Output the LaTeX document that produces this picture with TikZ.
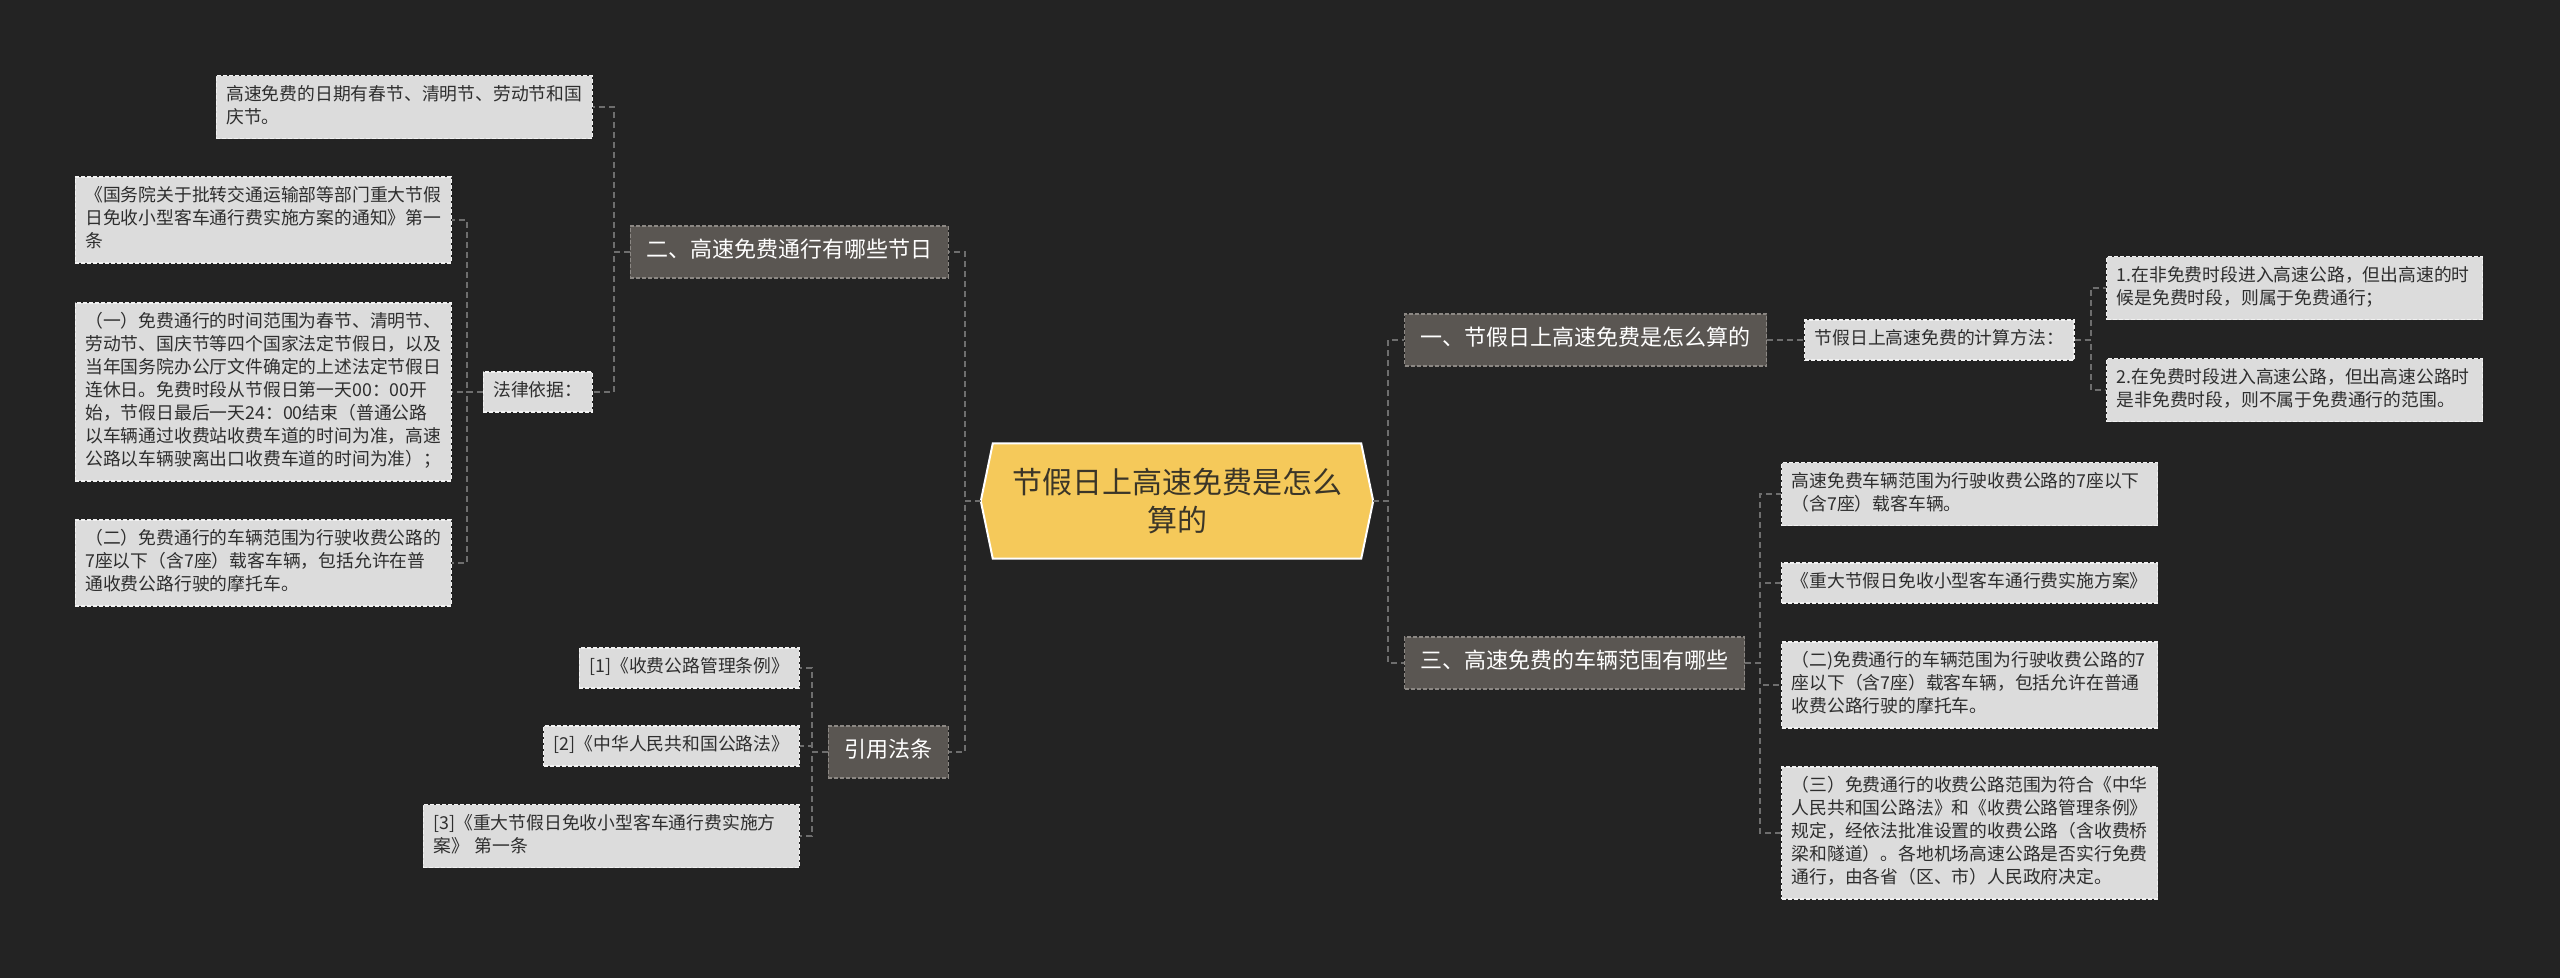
\documentclass[tikz,border=0pt]{standalone}
\usepackage{fontspec}
\setmainfont{Noto Sans CJK SC}
\usetikzlibrary{backgrounds,calc}
\definecolor{bgc}{HTML}{232323}
\definecolor{leaffill}{HTML}{DCDCDC}
\definecolor{leaftext}{HTML}{2E2E2E}
\definecolor{branchfill}{HTML}{5A5652}
\definecolor{branchline}{HTML}{8C8884}
\definecolor{centerfill}{HTML}{F5C95A}
\definecolor{centertext}{HTML}{3A3528}
\definecolor{connc}{HTML}{6E6E6E}
\tikzset{
  leaf/.style={draw=white!95!black, dash pattern=on 4pt off 2pt, line width=1.4pt,
    fill=leaffill, text=leaftext, font=\fontsize{17.8}{23}\selectfont, align=left,
    inner xsep=10pt, inner ysep=8.5pt,
    execute at begin node=\strut, execute at end node=\strut},
  leafw/.style={leaf, text width=356pt},
  branch/.style={draw=branchline, dash pattern=on 4pt off 2pt, line width=1.2pt,
    fill=branchfill, text=white, font=\fontsize{22}{28}\selectfont,
    inner xsep=16pt, inner ysep=12pt,
    execute at begin node=\strut},
  centerbox/.style={text=centertext, font=\fontsize{30}{38}\selectfont, align=center,
    minimum width=392pt, minimum height=115pt, inner sep=0pt},
  conn/.style={draw=connc, line width=1.8pt, dash pattern=on 6pt off 4pt}
}
\begin{document}
\begin{tikzpicture}[x=1pt,y=-1pt]
\useasboundingbox (0,0) rectangle (2560,978);
% center
\node[centerbox] (c) at (1177,501) {节假日上高速免费是怎么\\算的};
\begin{scope}[on background layer]
\fill[bgc] (0,0) rectangle (2560,978);
\draw[fill=centerfill, draw=white, line width=2pt]
  (c.west) -- ($(c.north west)+(12,0)$) -- ($(c.north east)+(-12,0)$) -- (c.east)
  -- ($(c.south east)+(-12,0)$) -- ($(c.south west)+(12,0)$) -- cycle;
\end{scope}
% main branches
\node[branch, anchor=east] (b2) at (949,252) {二、高速免费通行有哪些节日};
\node[branch, anchor=east] (b4) at (949,752) {引用法条};
\node[branch, anchor=west] (b1) at (1404,340) {一、节假日上高速免费是怎么算的};
\node[branch, anchor=west] (b3) at (1404,663) {三、高速免费的车辆范围有哪些};
% left: branch 2
\node[leafw, anchor=east] (l1) at (593,107) {高速免费的日期有春节、清明节、劳动节和国\\庆节。};
\node[leaf, anchor=east] (law) at (593,392) {法律依据：};
\node[leafw, anchor=east] (la) at (452,220) {《国务院关于批转交通运输部等部门重大节假\\日免收小型客车通行费实施方案的通知》第一\\条};
\node[leafw, anchor=east] (lb) at (452,392) {（一）免费通行的时间范围为春节、清明节、\\劳动节、国庆节等四个国家法定节假日，以及\\当年国务院办公厅文件确定的上述法定节假日\\连休日。免费时段从节假日第一天00：00开\\始，节假日最后一天24：00结束（普通公路\\以车辆通过收费站收费车道的时间为准，高速\\公路以车辆驶离出口收费车道的时间为准）；};
\node[leafw, anchor=east] (lc) at (452,563) {（二）免费通行的车辆范围为行驶收费公路的\\7座以下（含7座）载客车辆，包括允许在普\\通收费公路行驶的摩托车。};
% left: branch 4
\node[leaf, anchor=east] (r1) at (800,668) {[1]《收费公路管理条例》};
\node[leaf, anchor=east] (r2) at (800,746) {[2]《中华人民共和国公路法》};
\node[leafw, anchor=east] (r3) at (800,836) {[3]《重大节假日免收小型客车通行费实施方\\案》 第一条};
% right: branch 1
\node[leaf, anchor=west] (calc) at (1804,340) {节假日上高速免费的计算方法：};
\node[leafw, anchor=west] (c1) at (2106,288) {1.在非免费时段进入高速公路，但出高速的时\\候是免费时段，则属于免费通行；};
\node[leafw, anchor=west] (c2) at (2106,390) {2.在免费时段进入高速公路，但出高速公路时\\是非免费时段，则不属于免费通行的范围。};
% right: branch 3
\node[leafw, anchor=west] (t1) at (1781,494) {高速免费车辆范围为行驶收费公路的7座以下\\（含7座）载客车辆。};
\node[leafw, anchor=west] (t2) at (1781,583) {《重大节假日免收小型客车通行费实施方案》};
\node[leafw, anchor=west] (t3) at (1781,685) {（二)免费通行的车辆范围为行驶收费公路的7\\座以下（含7座）载客车辆，包括允许在普通\\收费公路行驶的摩托车。};
\node[leafw, anchor=west] (t4) at (1781,833) {（三）免费通行的收费公路范围为符合《中华\\人民共和国公路法》和《收费公路管理条例》\\规定，经依法批准设置的收费公路（含收费桥\\梁和隧道）。各地机场高速公路是否实行免费\\通行，由各省（区、市）人民政府决定。};
% connectors
\draw[conn] (c.west) -- ++(-16,0) |- (b2.east);
\draw[conn] (c.west) -- ++(-16,0) |- (b4.east);
\draw[conn] (c.east) -- ++(15,0) |- (b1.west);
\draw[conn] (c.east) -- ++(15,0) |- (b3.west);
\draw[conn] (b2.west) -- ++(-16,0) |- (l1.east);
\draw[conn] (b2.west) -- ++(-16,0) |- (law.east);
\draw[conn] (law.west) -- ++(-16,0) |- (la.east);
\draw[conn] (law.west) -- ++(-16,0) |- (lb.east);
\draw[conn] (law.west) -- ++(-16,0) |- (lc.east);
\draw[conn] (b4.west) -- ++(-16,0) |- (r1.east);
\draw[conn] (b4.west) -- ++(-16,0) |- (r2.east);
\draw[conn] (b4.west) -- ++(-16,0) |- (r3.east);
\draw[conn] (b1.east) -- (calc.west);
\draw[conn] (calc.east) -- ++(16,0) |- (c1.west);
\draw[conn] (calc.east) -- ++(16,0) |- (c2.west);
\draw[conn] (b3.east) -- ++(15,0) |- (t1.west);
\draw[conn] (b3.east) -- ++(15,0) |- (t2.west);
\draw[conn] (b3.east) -- ++(15,0) |- (t3.west);
\draw[conn] (b3.east) -- ++(15,0) |- (t4.west);
\end{tikzpicture}
\end{document}
